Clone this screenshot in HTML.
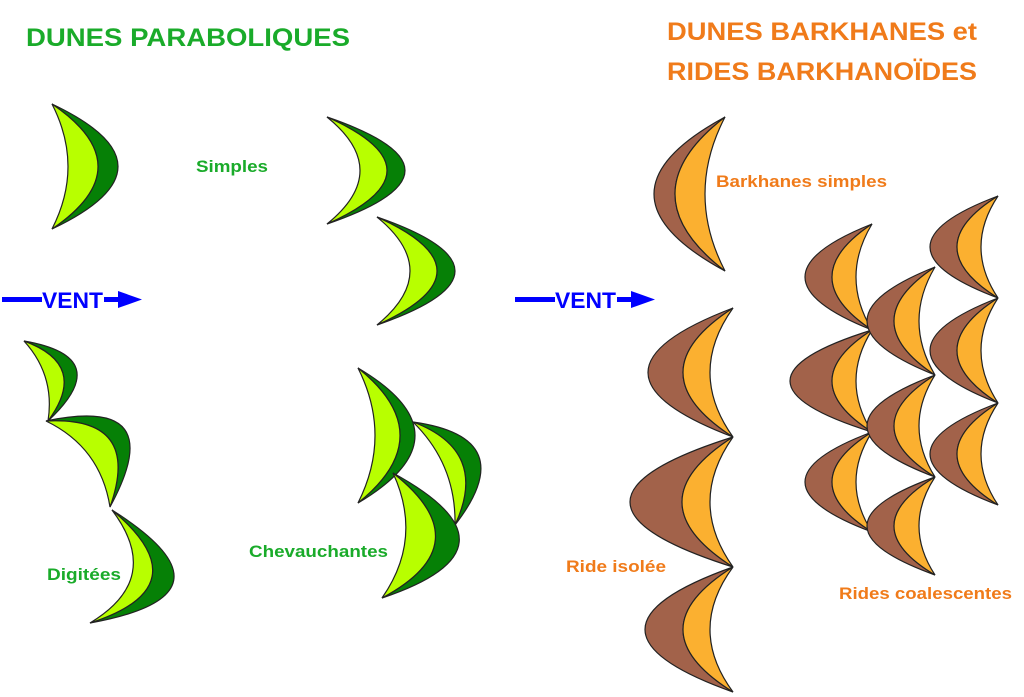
<!DOCTYPE html>
<html><head><meta charset="utf-8"><style>
html,body{margin:0;padding:0;background:#fff;}
svg{display:block}
text{font-family:"Liberation Sans",sans-serif;font-weight:bold}
</style></head><body>
<svg id="s" width="1024" height="697" viewBox="0 0 1024 697" xmlns="http://www.w3.org/2000/svg">
<g id="g"></g>
<text x="26" y="46" font-size="25" fill="#1aab2a" textLength="324" lengthAdjust="spacingAndGlyphs">DUNES PARABOLIQUES</text>
<text x="667" y="40" font-size="25" fill="#f07b1a" textLength="310" lengthAdjust="spacingAndGlyphs">DUNES BARKHANES et</text>
<text x="667" y="80" font-size="25" fill="#f07b1a" textLength="310" lengthAdjust="spacingAndGlyphs">RIDES BARKHANOÏDES</text>
<text x="196" y="172" font-size="17" fill="#1aab2a" textLength="72" lengthAdjust="spacingAndGlyphs">Simples</text>
<text x="47" y="580" font-size="17" fill="#1aab2a" textLength="74" lengthAdjust="spacingAndGlyphs">Digitées</text>
<text x="249" y="557" font-size="17" fill="#1aab2a" textLength="139" lengthAdjust="spacingAndGlyphs">Chevauchantes</text>
<text x="716" y="187" font-size="17" fill="#f07b1a" textLength="171" lengthAdjust="spacingAndGlyphs">Barkhanes simples</text>
<text x="566" y="572" font-size="17" fill="#f07b1a" textLength="100" lengthAdjust="spacingAndGlyphs">Ride isolée</text>
<text x="839" y="599" font-size="17" fill="#f07b1a" textLength="173" lengthAdjust="spacingAndGlyphs">Rides coalescentes</text>
<g fill="#0000ff">
<rect x="2" y="297" width="40" height="5"/>
<text x="42" y="308" font-size="22" fill="#0000ff" textLength="61" lengthAdjust="spacingAndGlyphs">VENT</text>
<rect x="104" y="297" width="18" height="5"/>
<polygon points="118,291 142,299.5 118,308"/>
<rect x="515" y="297" width="40" height="5"/>
<text x="555" y="308" font-size="22" fill="#0000ff" textLength="61" lengthAdjust="spacingAndGlyphs">VENT</text>
<rect x="617" y="297" width="18" height="5"/>
<polygon points="631,291 655,299.5 631,308"/>
</g>
</svg>
<script>
var g=document.getElementById('g'),h='';
function dune(x1,y1,x2,y2,a,b,c,c1,c2){
 var dx=x2-x1,dy=y2-y1,L=Math.hypot(dx,dy),nx=dy/L,ny=-dx/L,mx=(x1+x2)/2,my=(y1+y2)/2;
 function cp(o){return (mx+nx*2*o).toFixed(1)+','+(my+ny*2*o).toFixed(1);}
 var P1=x1+','+y1,P2=x2+','+y2;
 h+='<path d="M'+P1+' Q'+cp(a)+' '+P2+' Q'+cp(b)+' '+P1+'Z" fill="'+c1+'" stroke="#222" stroke-width="1.2"/>';
 h+='<path d="M'+P1+' Q'+cp(b)+' '+P2+' Q'+cp(c)+' '+P1+'Z" fill="'+c2+'" stroke="#222" stroke-width="1.2"/>';
}
var DG='#068006',LG='#b8ff00',BR='#a2624a',OR='#fbb030';
function p(x1,y1,x2,y2,a,b,c){dune(x1,y1,x2,y2,a,b,c,DG,LG);}
function k(x1,y1,x2,y2,a,b,c){dune(x1,y1,x2,y2,-a,-b,-c,BR,OR);}
p(52,104,52,229,66,46,16);
p(327,117,327,224,78,60,33);
p(377,217,377,325,78,60,33);
p(24,341,48,421,42,28,10);
p(46,421,110,507,58,40,14);
p(112,510,90,623,74,52,32);
p(413,422,455,525,48,30,12);
p(358,368,358,503,57,42,17);
p(393,473,382,598,72,48,18);
k(725,117,725,271,71,50,20);
k(733,308,733,437,85,50,23);
k(733,437,733,567,103,51,23);
k(733,567,733,692,88,50,23);
var A=[224,330,432,532],B=[267,375,477,575],C=[196,298,403,505];
var oa=[67,82,67,67];
for(var i=0;i<3;i++)k(872,A[i],872,A[i+1],oa[i],40,16);
for(var i=0;i<3;i++)k(935,B[i],935,B[i+1],68,41,16);
for(var i=0;i<3;i++)k(998,C[i],998,C[i+1],68,41,17);
g.innerHTML=h;
</script>
</body></html>
